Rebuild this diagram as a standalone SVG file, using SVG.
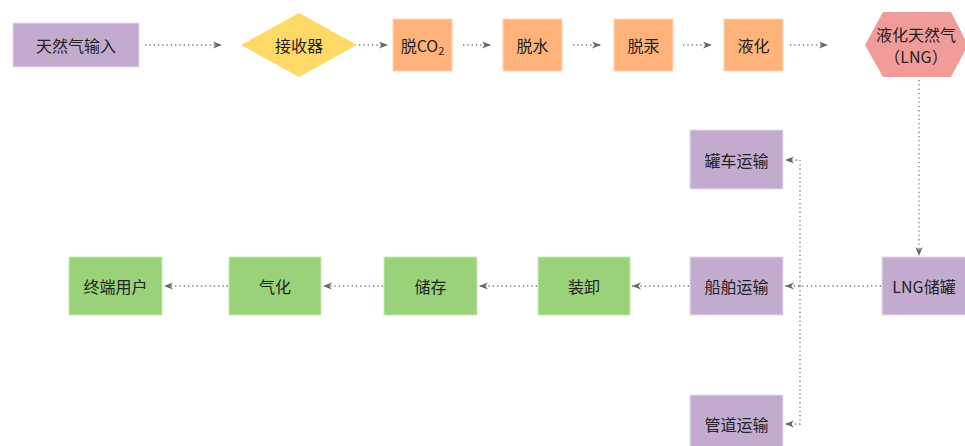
<svg xmlns="http://www.w3.org/2000/svg" width="965" height="446" viewBox="0 0 965 446">
<style>
text{font-family:"Noto Sans CJK SC","Liberation Sans",sans-serif;font-size:16px;fill:#222;text-anchor:middle;dominant-baseline:central}
.p{fill:#C3ABD0;stroke:#e8dcef;stroke-width:1}
.o{fill:#FFB27A;stroke:#ffd5b5;stroke-width:1}
.g{fill:#99D279;stroke:#c8ebb5;stroke-width:1}
.c{fill:none;stroke:#777;stroke-width:1.3;stroke-dasharray:1.3 3}
</style>
<defs>
<marker id="a" viewBox="0 0 10 10" refX="10" refY="5" markerWidth="9" markerHeight="9" markerUnits="userSpaceOnUse" orient="auto">
<path d="M0,1 L10,5 L0,9 L3,5 Z" fill="#666"/>
</marker>
</defs>
<rect width="965" height="446" fill="#fff"/>
<g id="connectors">
<path class="c" d="M145,45 H222" marker-end="url(#a)"/>
<path class="c" d="M359,45 H388" marker-end="url(#a)"/>
<path class="c" d="M463,45 H491" marker-end="url(#a)"/>
<path class="c" d="M573,45 H601" marker-end="url(#a)"/>
<path class="c" d="M683,45 H712" marker-end="url(#a)"/>
<path class="c" d="M790,45 H828" marker-end="url(#a)"/>
<path class="c" d="M919,80 V256" marker-end="url(#a)"/>
<path class="c" d="M881,286 H785" marker-end="url(#a)"/>
<path class="c" d="M800,286 V160 H785" marker-end="url(#a)"/>
<path class="c" d="M800,286 V424 H785" marker-end="url(#a)"/>
<path class="c" d="M689,286 H632" marker-end="url(#a)"/>
<path class="c" d="M537,286 H479" marker-end="url(#a)"/>
<path class="c" d="M383,286 H323" marker-end="url(#a)"/>
<path class="c" d="M228,286 H164" marker-end="url(#a)"/>
</g>
<g id="n1"><rect class="p" x="13" y="23" width="126" height="44"/><text x="76" y="45">天然气输入</text></g>
<g id="n2"><polygon points="299,13 357,45 299,77 241,45" fill="#FFD966"/><text x="299" y="45">接收器</text></g>
<g id="n3"><rect class="o" x="393" y="19" width="59" height="52"/><text x="422.5" y="45">脱CO<tspan font-size="11" dy="5">2</tspan></text></g>
<g id="n4"><rect class="o" x="503" y="19" width="59" height="52"/><text x="532.5" y="45">脱水</text></g>
<g id="n5"><rect class="o" x="614" y="19" width="59" height="52"/><text x="643.5" y="45">脱汞</text></g>
<g id="n6"><rect class="o" x="724" y="19" width="59" height="52"/><text x="753.5" y="45">液化</text></g>
<g id="n7"><polygon points="865,45 883,12 951,12 968,45 951,77 883,77" fill="#F29C9A"/><text x="916" y="34" font-size="15">液化天然气</text><text x="916" y="56" font-size="15">（LNG）</text></g>
<g id="n8"><rect class="p" x="882" y="257" width="90" height="58"/><text x="924" y="286">LNG储罐</text></g>
<g id="n9"><rect class="p" x="690" y="130" width="93" height="59"/><text x="736.5" y="160">罐车运输</text></g>
<g id="n10"><rect class="p" x="690" y="257" width="93" height="58"/><text x="736.5" y="286">船舶运输</text></g>
<g id="n11"><rect class="p" x="690" y="395" width="93" height="59"/><text x="736.5" y="424">管道运输</text></g>
<g id="n12"><rect class="g" x="538" y="257" width="92" height="58"/><text x="584" y="286">装卸</text></g>
<g id="n13"><rect class="g" x="384" y="257" width="93" height="58"/><text x="430.5" y="286">储存</text></g>
<g id="n14"><rect class="g" x="229" y="257" width="92" height="58"/><text x="275" y="286">气化</text></g>
<g id="n15"><rect class="g" x="69" y="257" width="93" height="58"/><text x="115.5" y="286">终端用户</text></g>
</svg>
